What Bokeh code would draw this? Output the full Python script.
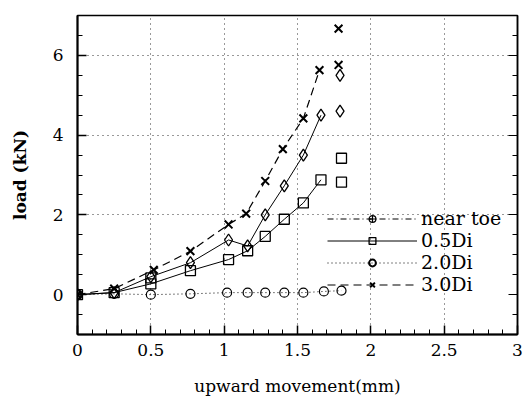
from bokeh.plotting import figure
from bokeh.models import (Range1d, FixedTicker, LinearAxis, Legend, LegendItem,
                          CustomJSTickFormatter)
from bokeh.embed import file_html
from bokeh.resources import INLINE

# ---- data ----
near_toe_x = [0, 0.25, 0.5, 0.77, 1.02, 1.16, 1.28, 1.41, 1.54, 1.68, 1.80]
near_toe_y = [0, 0.02, 0.0, 0.02, 0.05, 0.05, 0.05, 0.05, 0.05, 0.08, 0.1]

d05_x = [0, 0.25, 0.5, 0.5, 0.77, 1.03, 1.16, 1.28, 1.41, 1.54, 1.66]
d05_y = [0, 0.05, 0.27, 0.42, 0.6, 0.88, 1.1, 1.46, 1.89, 2.3, 2.88]
d05_end_x = [1.80, 1.80]
d05_end_y = [2.82, 3.42]

d20_x = [0, 0.25, 0.5, 0.77, 1.03, 1.16, 1.28, 1.41, 1.54, 1.66]
d20_y = [0, 0.05, 0.45, 0.8, 1.37, 1.22, 2.0, 2.73, 3.5, 4.5]
d20_end_x = [1.79, 1.79]
d20_end_y = [4.6, 5.5]

d30_x = [0, 0.25, 0.52, 0.77, 1.03, 1.15, 1.28, 1.40, 1.54, 1.65]
d30_y = [0, 0.15, 0.62, 1.09, 1.76, 2.03, 2.85, 3.65, 4.42, 5.63]
d30_end_x = [1.78, 1.78]
d30_end_y = [5.76, 6.67]

x_ticks = [0, 0.5, 1, 1.5, 2, 2.5, 3]
y_ticks = [0, 2, 4, 6]
series_names = ["near toe", "0.5Di", "2.0Di", "3.0Di"]

# off-range placeholders used only for legend samples
legend_dummy_x = [-10, -9]
legend_dummy_y = [-10, -10]

FONT = "DejaVu Serif"

p = figure(width=524, height=400, output_backend="svg", toolbar_location=None,
           x_range=Range1d(0, 3), y_range=Range1d(-1, 7),
           min_border_left=77, min_border_right=7, min_border_top=15,
           min_border_bottom=66, background_fill_color="white",
           border_fill_color="white")
p.outline_line_color = "black"
p.outline_line_width = 1.5

y_minor = [v / 2 for v in range(-2, 15)]
x_minor = [v / 10 for v in range(0, 31)]

p.xaxis.ticker = FixedTicker(ticks=x_ticks, minor_ticks=x_minor)
p.yaxis.ticker = FixedTicker(ticks=y_ticks, minor_ticks=y_minor)

for ax in (p.xaxis[0], p.yaxis[0]):
    ax.axis_line_width = 2
    ax.major_tick_in = 9
    ax.major_tick_out = 0
    ax.minor_tick_in = 5
    ax.minor_tick_out = 0
    ax.major_tick_line_width = 1.5
    ax.major_label_text_font = FONT
    ax.major_label_text_font_size = "17px"
    ax.major_label_text_color = "black"
    ax.axis_label_text_font = FONT
    ax.axis_label_text_font_style = "normal"
    ax.axis_label_text_font_size = "17px"
    ax.axis_label_text_color = "black"

p.xaxis.axis_label = "upward movement(mm)"
p.yaxis.axis_label = "load (kN)"
p.xaxis.major_label_standoff = 9
p.yaxis.major_label_standoff = 14
p.xaxis.axis_label_standoff = 17
p.yaxis.axis_label_standoff = 20
p.yaxis.axis_label_text_font_style = "bold"

# right axis with inward ticks, no labels
ra = LinearAxis(ticker=FixedTicker(ticks=y_ticks, minor_ticks=y_minor),
                formatter=CustomJSTickFormatter(code="return ''"))
ra.major_tick_in = 9
ra.major_tick_out = 0
ra.minor_tick_in = 5
ra.minor_tick_out = 0
ra.major_label_standoff = 0
ra.axis_line_width = 1.5
p.add_layout(ra, "right")

# grid
p.xgrid.ticker = FixedTicker(ticks=[0.5, 1, 1.5, 2, 2.5])
p.ygrid.ticker = FixedTicker(ticks=[2, 4, 6])
for g in (p.xgrid[0], p.ygrid[0]):
    g.grid_line_color = "#333333"
    g.grid_line_dash = "1 4"
    g.grid_line_width = 1

# series
l0 = p.line(near_toe_x, near_toe_y, line_color="black", line_width=1, line_dash="1 3")
m0 = p.scatter(near_toe_x, near_toe_y, marker="circle", size=9, line_color="black",
               fill_alpha=0, line_width=1.2)

l1 = p.line(d05_x[:3] + d05_x[4:], d05_y[:3] + d05_y[4:], line_color="black", line_width=1)
m1 = p.scatter(d05_x + d05_end_x, d05_y + d05_end_y, marker="square", size=10,
               line_color="black", fill_alpha=0, line_width=1.3)

l2 = p.line(d20_x, d20_y, line_color="black", line_width=1)
m2 = p.scatter(d20_x + d20_end_x, d20_y + d20_end_y, marker="diamond", size=12,
               line_color="black", fill_alpha=0, line_width=1.3)

l3 = p.line(d30_x, d30_y, line_color="black", line_width=1.2, line_dash="8 5")
m3 = p.scatter(d30_x + d30_end_x, d30_y + d30_end_y, marker="x", size=11,
               line_color="black", line_width=2)

# legend samples (drawn outside the visible range)
lg0 = p.line(legend_dummy_x, legend_dummy_y, line_color="black", line_width=1,
             line_dash="6 3 1 3")
lg0m = p.scatter(legend_dummy_x, legend_dummy_y, marker="circle_cross", size=9,
                 line_color="black", fill_alpha=0, line_width=1.2)
lg2 = p.line(legend_dummy_x, legend_dummy_y, line_color="black", line_width=1,
             line_dash="1 3")
lg2m = p.scatter(legend_dummy_x, legend_dummy_y, marker="circle", size=7,
                 line_color="black", fill_alpha=0, line_width=2)

legend = Legend(items=[
    LegendItem(label=series_names[0], renderers=[lg0, lg0m]),
    LegendItem(label=series_names[1], renderers=[l1, m1]),
    LegendItem(label=series_names[2], renderers=[lg2, lg2m]),
    LegendItem(label=series_names[3], renderers=[l3, m3]),
], location=(250, 39))
legend.border_line_color = None
legend.background_fill_alpha = 0
legend.label_text_font = FONT
legend.label_text_font_size = "19px"
legend.label_text_color = "black"
legend.glyph_width = 90
legend.glyph_height = 17
legend.label_height = 17
legend.label_standoff = 4
legend.spacing = 0
legend.padding = 0
legend.margin = 0
p.add_layout(legend)

open("out.html", "w").write(file_html(p, INLINE))
